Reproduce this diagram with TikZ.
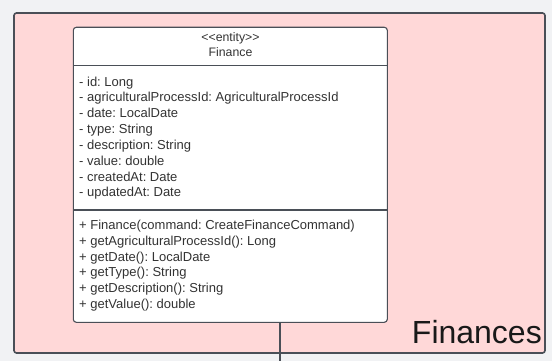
\documentclass[tikz,border=0pt]{standalone}
\usepackage{fontspec}
\setmainfont{Liberation Sans}
\frenchspacing
\definecolor{pagebg}{HTML}{F1F2F4}
\definecolor{pkgfill}{HTML}{FFD8D8}
\definecolor{edge}{HTML}{4A4F57}
\definecolor{ink}{HTML}{333333}
\begin{document}
\begin{tikzpicture}[x=1pt,y=-1pt,
  pkg/.style={draw=edge, line width=1.6pt, fill=pkgfill, rounded corners=2.5pt},
  classbox/.style={draw=edge, line width=1.1pt, fill=white, rounded corners=3pt},
  sep/.style={draw=edge, line width=1.1pt},
  member/.style={anchor=base west, inner sep=0pt, text=ink, font=\fontsize{13}{15}\selectfont},
  head/.style={anchor=base, inner sep=0pt, text=ink, font=\fontsize{12.3}{14}\selectfont},
  link/.style={draw=edge, line width=1.1pt}]
  % canvas
  \fill[pagebg] (0,0) rectangle (552,361);
  \useasboundingbox (0,0) rectangle (552,361);
  % package frame
  \draw[pkg] (14,13) rectangle (545,353);
  \node[anchor=base east, inner sep=0pt, text=black!90, font=\fontsize{32}{36}\selectfont] (pkgname) at (542,343.3) {Finances};
  % class box
  \draw[classbox] (73.3,27.3) rectangle (387.3,322.3);
  \node[coordinate] (cls) at (280,322.3) {};
  \draw[sep] (73.3,65.7) -- (387.3,65.7);
  \draw[sep] (73.3,210) -- (387.3,210);
  \node[head] (stereo) at (230.5,42) {{<}{<}entity{>}{>}};
  \node[head] (cname) at (230.5,56.7) {Finance};
  % attributes
  \foreach \t [count=\i from 0] in {%
    - id: Long,
    - agriculturalProcessId: AgriculturalProcessId,
    - date: LocalDate,
    - type: String,
    - description: String,
    - value: double,
    - createdAt: Date,
    - updatedAt: Date}
    \node[member] (attr\i) at (79,86.2+15.8*\i) {\t};
  % operations
  \foreach \t [count=\i from 0] in {%
    + Finance(command: CreateFinanceCommand),
    + getAgriculturalProcessId(): Long,
    + getDate(): LocalDate,
    + getType(): String,
    + getDescription(): String,
    + getValue(): double}
    \node[member] (op\i) at (79,229.5+15.8*\i) {\t};
  % outgoing connector
  \coordinate (down) at (280,361);
  \draw[link] (cls) -- (down);
\end{tikzpicture}
\end{document}
